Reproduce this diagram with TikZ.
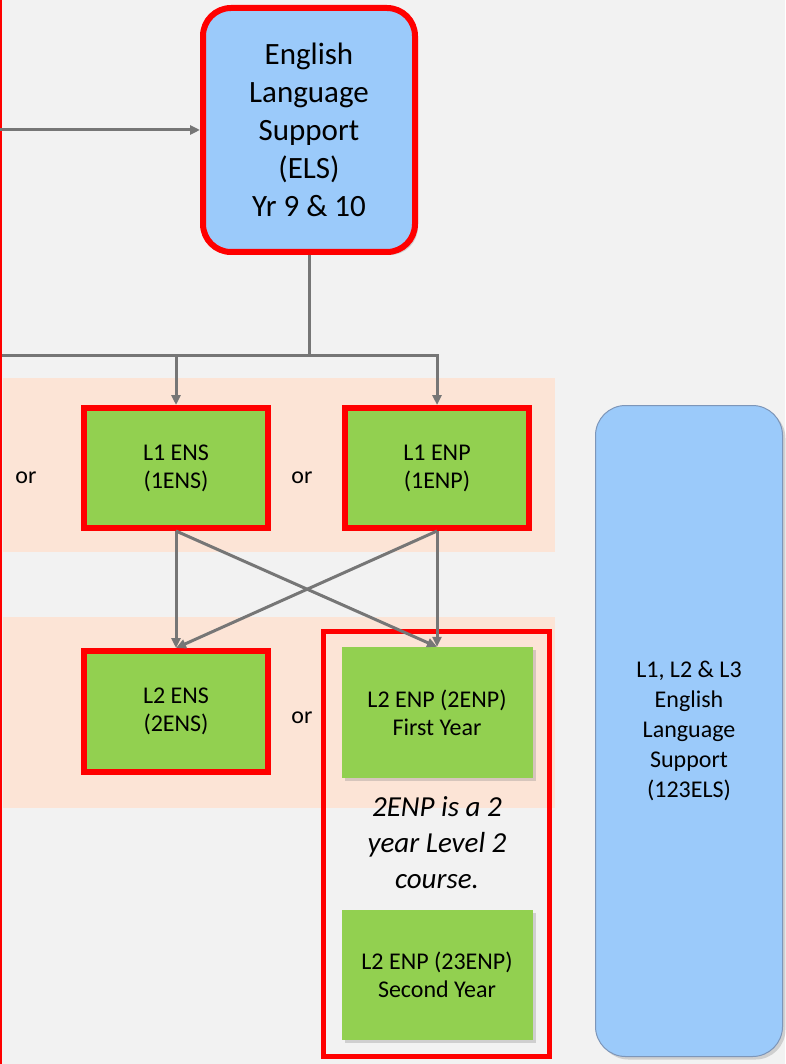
\documentclass[tikz,border=0pt]{standalone}
\usepackage{fontspec}
\setmainfont{Carlito}
\usetikzlibrary{arrows.meta,shadows}

\definecolor{pagegray}{RGB}{242,242,242}
\definecolor{bandpeach}{RGB}{252,228,214}
\definecolor{boxgreen}{RGB}{146,208,80}
\definecolor{boxblue}{RGB}{155,202,250}
\definecolor{linegray}{RGB}{118,118,118}
\definecolor{edgeblue}{RGB}{125,150,185}

\begin{document}
\begin{tikzpicture}[x=1pt,y=-1pt,
  link/.style={draw=linegray,line width=3pt},
  conn/.style={link,-{Triangle[length=10pt,width=9pt]}},
  soft/.style={drop shadow={opacity=.3,shadow xshift=3pt,shadow yshift=-3pt}},
  redbox/.style={rectangle,soft,fill=boxgreen,draw=red,line width=6pt,minimum width=184pt,minimum height=120pt,align=center,font=\fontsize{24}{28}\selectfont},
  greenbox/.style={rectangle,soft,fill=boxgreen,minimum width=191pt,minimum height=131pt,align=center,font=\fontsize{24}{28}\selectfont},
  ortext/.style={font=\fontsize{24}{28}\selectfont}]

\useasboundingbox (0,0) rectangle (785,1064);
\fill[pagegray] (0,0) rectangle (785,1064);
\draw[red,line width=2pt] (1,0) -- (1,1064);

% bands
\fill[bandpeach] (3,378) rectangle (555,552);
\fill[bandpeach] (3,617) rectangle (555,808);

\node[rectangle,soft,rounded corners=28pt,fill=boxblue,draw=red,line width=6pt,minimum width=212pt,minimum height=244pt,align=center,font=\fontsize{31}{38}\selectfont] (els) at (309,130) {English\\Language\\Support\\(ELS)\\Yr 9 \& 10};

\node[redbox] (enone) at (176,468) {L1 ENS\\(1ENS)};
\node[redbox] (enpone) at (437,468) {L1 ENP\\(1ENP)};
\node[redbox,minimum height=121pt] (enstwo) at (176,711.5) {L2 ENS\\(2ENS)};

\draw[red,line width=5pt] (323,631) rectangle (549,1056);
\node[greenbox] (enptwo) at (437,712.5) {L2 ENP (2ENP)\\First Year};
\node[align=center,font=\fontsize{29}{36}\selectfont\itshape] (note) at (437,843) {2ENP is a 2\\year Level 2\\course.};
\node[greenbox,minimum height=130pt] (enpthree) at (437,975) {L2 ENP (23ENP)\\Second Year};

\node[ortext] (orone) at (26,478) {or};
\node[ortext] (ortwo) at (302,478) {or};
\node[ortext] (orthree) at (302,718) {or};

\node[rectangle,soft,rounded corners=30pt,fill=boxblue,draw=edgeblue,line width=1pt,minimum width=187pt,minimum height=651pt,align=center,font=\fontsize{24}{30}\selectfont] (elsall) at (689,731) {L1, L2 \& L3\\English\\Language\\Support\\(123ELS)};

\coordinate (entry) at (0,130);
\coordinate (leftend) at (3,355);
\coordinate (split) at (309,355);
\coordinate (dropa) at (176,355);
\coordinate (dropb) at (437,355);

\draw[conn] (entry) -- (els.west);
\draw[link] (els.south) -- (split);
\draw[link,line cap=rect] (leftend) -- (dropb);
\draw[conn] (dropa) -- (enone.north);
\draw[conn] (dropb) -- (enpone.north);
\draw[conn] (enone.south) -- (enstwo.north);
\draw[conn] (enone.south) -- (enptwo.north);
\draw[conn] (enpone.south) -- (enstwo.north);
\draw[conn] (enpone.south) -- (enptwo.north);
\end{tikzpicture}
\end{document}
